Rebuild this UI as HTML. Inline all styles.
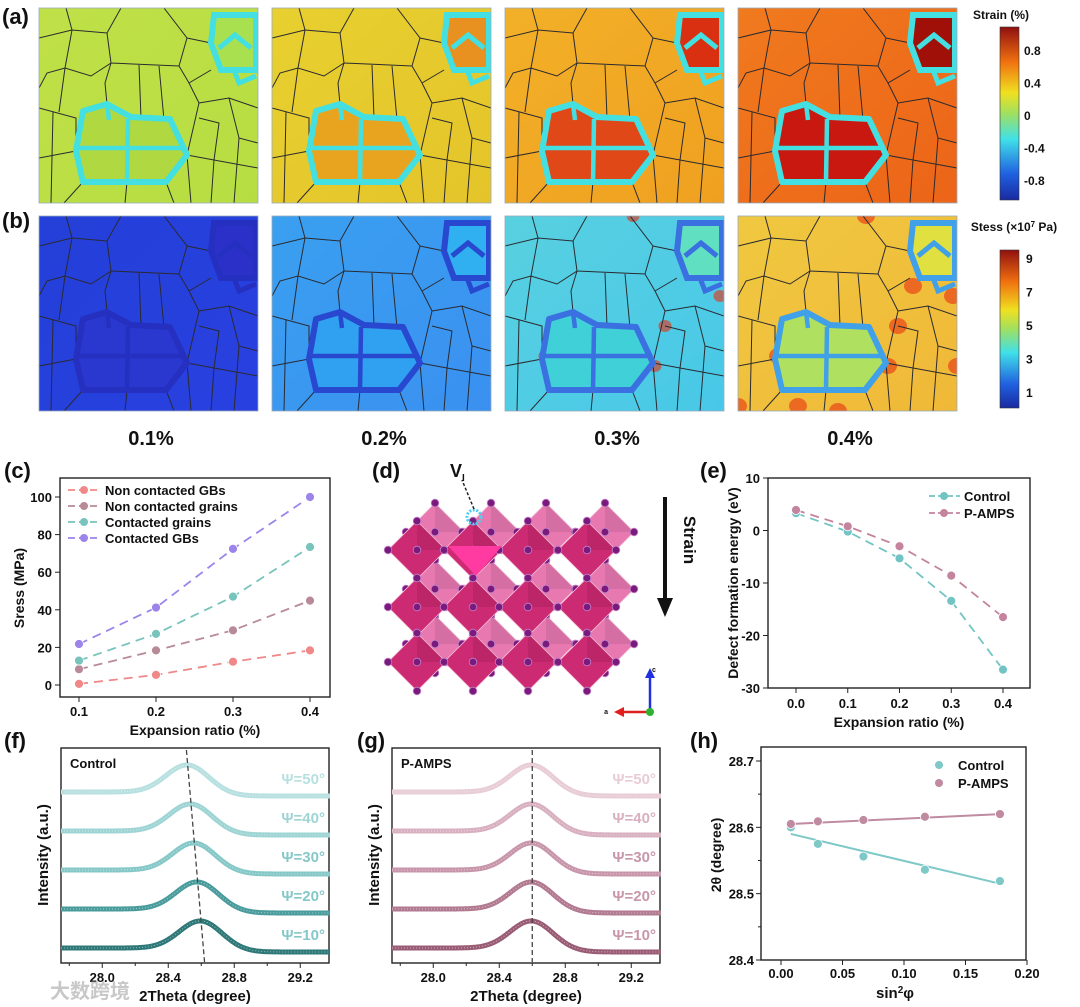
<!DOCTYPE html>
<html><head><meta charset="utf-8"><style>
html,body{margin:0;padding:0;background:#fff;width:1080px;height:1007px;overflow:hidden}
svg{display:block;font-family:"Liberation Sans","Noto Sans CJK SC",sans-serif;font-weight:bold}
</style></head><body>
<svg id="fig" width="1080" height="1007" viewBox="0 0 1080 1007" xmlns="http://www.w3.org/2000/svg">
<defs>
<linearGradient id="cbA" x1="0" y1="1" x2="0" y2="0"><stop offset="0" stop-color="#1a2aa0"/><stop offset="0.15" stop-color="#2060e0"/><stop offset="0.35" stop-color="#40e0e8"/><stop offset="0.5" stop-color="#a0e060"/><stop offset="0.62" stop-color="#f0e020"/><stop offset="0.8" stop-color="#f07010"/><stop offset="1" stop-color="#901010"/></linearGradient>
<clipPath id="mapClip"><rect x="0" y="0" width="219" height="195"/></clipPath>
<symbol id="grains" viewBox="0 0 219 195">
<g fill="none" stroke="#2a2a30" stroke-width="1">
<path d="M27,0 L33,22 L0,30 M33,22 L68,25 L82,0 M68,25 L72,55 L52,68 L26,60 L8,65 L0,80 M33,22 L26,60 M72,55 L140,58 L148,30 L125,0 M148,30 L172,35 M72,55 L66,75 L68,96 M140,58 L150,75 L172,62 M100,57 L102,110 M120,58 L125,112 M150,75 L160,95 L148,147 M160,95 L190,90 L219,100 M190,90 L200,130 L219,135 M148,147 L175,152 L219,160 M175,152 L172,195 M200,130 L195,195 M160,110 L180,115 L175,152 M37,143 L0,150 M44,174 L25,195 M0,100 L37,110 L37,143 M14,104 L12,195 M127,174 L135,195 M88,174 L86,195 M148,147 L152,195 M26,60 L20,104"/>
</g>
</symbol>
</defs>
<g id="root"></g>
</svg>
<script>
const NS="http://www.w3.org/2000/svg";
const root=document.getElementById('root');
function mk(tag,attrs,parent){const e=document.createElementNS(NS,tag);for(const k in attrs)e.setAttribute(k,attrs[k]);(parent||root).appendChild(e);return e;}
function tx(str,x,y,size,parent,anchor,fill){const e=mk('text',{x:x,y:y,'font-size':size,'text-anchor':anchor||'middle',fill:fill||'#111'},parent);e.textContent=str;return e;}

// ---------- panels a,b (FEM maps) ----------
const mapX=[39,272,505,738];
const aBase=['#b6de42','#e4c42a','#f0a020','#ec6418'];
const aTop=['#c0e048','#e8d030','#f2b028','#f07a1e'];
const aClu=['#b0d840','#e8a41e','#e04818','#c81810'];
const aTR=['#a8e050','#e89020','#d83010','#a01008'];
const bBase=['#2840e0','#3a90f0','#48c8e8','#f0b838'];
const bTop=['#2440d8','#3aa0f0','#58d0e0','#f0c840'];
const bClu=['#2a38d0','#30a0f0','#40d0d8','#b0e060'];
const bTR=['#2a30c8','#30b0f0','#60e0c0','#e0e040'];
const aGB='#44dfe0';
const bGB=['#2530c0','#2848d0','#3a70e0','#40a0e8'];
const hot=[0,0,1,2];
const clusterPath="M44,103 L68,96 L92,109 L131,111 L148,147 L127,174 L44,174 L37,143 Z";
const trPath="M175,7 L217,7 L217,62 L182,62 L172,35 Z";
function drawMap(i,y,base,top,clu,tr,gb,name){
  const outer=mk('g',{transform:`translate(${mapX[i]},${y})`});
  
  
  const g=mk('g',{'clip-path':'url(#mapClip)'},outer);
  const gid=name+'-grad';
  const lg=mk('linearGradient',{id:gid,x1:0,y1:0,x2:1,y2:1},g);
  mk('stop',{offset:0,'stop-color':top[i]},lg);mk('stop',{offset:1,'stop-color':base[i]},lg);
  mk('rect',{x:0,y:0,width:219,height:195,fill:`url(#${gid})`},g);
  if(name.startsWith('stress')&&hot[i]>0){
    const spots=[[128,0],[215,80],[40,140],[150,150],[160,110],[0,190],[219,150],[60,190],[100,195],[175,70]];
    spots.slice(0,hot[i]*5).forEach(s=>mk('ellipse',{cx:s[0],cy:s[1],rx:4+hot[i]*2.5,ry:4+hot[i]*2,fill:'#e83010',opacity:0.6},g));
  }
  mk('path',{d:clusterPath,fill:clu[i]},g);
  mk('path',{d:trPath,fill:tr[i]},g);
  mk('use',{href:'#grains',x:0,y:0,width:219,height:195},g);
  const gbc=typeof gb==='string'?gb:gb[i];
  mk('path',{d:clusterPath,fill:'none',stroke:gbc,'stroke-width':6,'stroke-linejoin':'round'},g);
  mk('path',{d:'M40,140 L145,140 M89,111 L88,174 M68,96 L70,112',fill:'none',stroke:gbc,'stroke-width':4.5},g);
  mk('path',{d:trPath,fill:'none',stroke:gbc,'stroke-width':6},g);
  mk('path',{d:'M180,40 L196,27 L212,40 M195,62 L200,75 L217,68',fill:'none',stroke:gbc,'stroke-width':5},g);
  mk('rect',{x:0,y:0,width:219,height:195,fill:'none',stroke:'#9ab','stroke-width':0.8},outer);
}
for(let i=0;i<4;i++){drawMap(i,8,aBase,aTop,aClu,aTR,aGB,'strain-map-'+(i+1));drawMap(i,216,bBase,bTop,bClu,bTR,bGB,'stress-map-'+(i+1));}
const mapLabels=['0.1%','0.2%','0.3%','0.4%'];
mapLabels.forEach((l,i)=>{const t=tx(l,mapX[i]+112,445,20);});
// colorbars
const cba=mk('rect',{x:1000,y:27,width:19,height:173,fill:'url(#cbA)',stroke:'#333','stroke-width':0.6});

const cbb=mk('rect',{x:1000,y:250,width:19,height:158,fill:'url(#cbA)',stroke:'#333','stroke-width':0.6});

const strainTicks=['0.8','0.4','0','-0.4','-0.8'];
strainTicks.forEach((t,i)=>tx(t,1024,55+i*32.5,12,null,'start'));
const stressTicks=['9','7','5','3','1'];
stressTicks.forEach((t,i)=>tx(t,1026,263+i*33.5,12,null,'start'));
let t1=tx('Strain (%)',1001,19,12,null,'middle');
let t2=mk('text',{x:1014,y:231,'font-size':12,'text-anchor':'middle',fill:'#111'});t2.innerHTML='Stess (×10<tspan dy="-4" font-size="8">7</tspan><tspan dy="4"> Pa)</tspan>';


// panel letters
const letters=[['(a)',2,24],['(b)',2,228],['(c)',4,478],['(d)',372,478],['(e)',700,478],['(f)',4,748],['(g)',357,748],['(h)',690,748]];
letters.forEach(l=>{const t=tx(l[0],l[1],l[2],22,null,'start');});

// ---------- generic axes helper ----------
function box(x0,y0,x1,y1,name){const r=mk('rect',{x:x0,y:y0,width:x1-x0,height:y1-y0,fill:'none',stroke:'#222','stroke-width':1.4});}

// ---------- (c) ----------
const cX=[0.1,0.2,0.3,0.4];
const cNonGB=[0.6,5.4,12.4,18.4];
const cNonGrain=[8.4,18.4,29.1,44.9];
const cConGrain=[13.0,27.2,47.0,73.4];
const cConGB=[21.8,41.2,72.4,100];
const cNames=['Non contacted GBs','Non contacted grains','Contacted grains','Contacted GBs'];
const cColors=['#f08888','#b88a98','#78c4bc','#9c84ea'];
const cYT=[0,20,40,60,80,100];
const cXT=[0.1,0.2,0.3,0.4];
const cxs=v=>79+(v-0.1)*770, cys=v=>685-1.88*v;
box(60,478,330,697,'chart-c-axes');
cYT.forEach(v=>{mk('line',{x1:55,x2:60,y1:cys(v),y2:cys(v),stroke:'#222'});tx(v,52,cys(v)+5,13,null,'end');});
cXT.forEach(v=>{mk('line',{x1:cxs(v),x2:cxs(v),y1:697,y2:702,stroke:'#222'});tx(v.toFixed(1),cxs(v),716,13);});
let ct=tx('Expansion ratio (%)',195,735,14);
let cy=tx('Sress (MPa)',0,0,14);cy.setAttribute('transform','translate(24,588) rotate(-90)');
[cNonGB,cNonGrain,cConGrain,cConGB].forEach((s,k)=>{
  const l=mk('polyline',{points:s.map((v,i)=>cxs(cX[i])+','+cys(v)).join(' '),fill:'none',stroke:cColors[k],'stroke-width':1.8,'stroke-dasharray':'9 6'});
  
  s.forEach((v,i)=>{const c=mk('circle',{cx:cxs(cX[i]),cy:cys(v),r:4.5,fill:cColors[k],stroke:'#fff','stroke-width':0.8});});
  const ly=490+k*16;
  mk('line',{x1:68,x2:100,y1:ly,y2:ly,stroke:cColors[k],'stroke-width':1.8,'stroke-dasharray':'7 4'});
  mk('circle',{cx:84,cy:ly,r:4,fill:cColors[k]});
  const lt=tx(cNames[k],105,ly+5,13,null,'start');
});

// ---------- (d) crystal ----------
const dg=mk('g',{});
const colsD=[417,473,528,587],rowsD=[550,607,662];
[[18,-18,'#e878b0'],[0,0,'#cc2a72']].forEach(layer=>{
  rowsD.forEach(cyD=>colsD.forEach(cxD=>{
    const x=cxD+layer[0],y=cyD+layer[1],h=29;
    mk('polygon',{points:`${x},${y-h} ${x+h},${y} ${x},${y+h} ${x-h},${y}`,fill:layer[2],stroke:'#f6c0d8','stroke-width':0.8},dg);
    mk('polygon',{points:`${x},${y-h} ${x+h},${y} ${x},${y}`,fill:'#000',opacity:0.08},dg);
    [[x,y-h],[x+h,y],[x,y+h],[x-h,y],[x,y]].forEach(p=>mk('circle',{cx:p[0],cy:p[1],r:3.8,fill:'#7a1a7c',stroke:'#c080c8','stroke-width':0.8},dg));
  }));
});
mk('polygon',{points:'448,546 502,546 476,576',fill:'#ff3aa0'},dg);
mk('circle',{cx:474,cy:517,r:7,fill:'none',stroke:'#4fd0f0','stroke-width':3,'stroke-dasharray':'2 1.5'},dg);
mk('line',{x1:474,y1:509,x2:462,y2:480,stroke:'#222','stroke-width':1.5,'stroke-dasharray':'3 2'},dg);
let vt=mk('text',{x:450,y:477,'font-size':18,fill:'#111'});vt.innerHTML='V<tspan font-size="10" dy="4">I</tspan>';
const arr=mk('g',{});
mk('line',{x1:665,y1:497,x2:665,y2:600,stroke:'#111','stroke-width':4},arr);
mk('polygon',{points:'657,598 673,598 665,617',fill:'#111'},arr);
let st=tx('Strain',0,0,17);st.setAttribute('transform','translate(684,540) rotate(90)');
mk('line',{x1:650,y1:712,x2:650,y2:676,stroke:'#2030e0','stroke-width':2.5});mk('polygon',{points:'645,678 655,678 650,668',fill:'#2030e0'});
mk('line',{x1:650,y1:712,x2:622,y2:712,stroke:'#e02020','stroke-width':2.5});mk('polygon',{points:'624,707 624,717 614,712',fill:'#e02020'});
mk('circle',{cx:650,cy:712,r:4,fill:'#30b030'});
tx('c',652,672,7,null,'start');tx('a',608,714,7,null,'end');

// ---------- (e) ----------
const eX=[0.0,0.1,0.2,0.3,0.4];
const eControl=[3.3,-0.2,-5.3,-13.4,-26.5];
const ePAMPS=[3.9,0.8,-3.0,-8.6,-16.5];
const eYT=[10,0,-10,-20,-30];
const eXT=[0.0,0.1,0.2,0.3,0.4];
const eColors=['#72c4c4','#c4849e'];
const exs=v=>796+v*517.5, eys=v=>478+(10-v)*5.25;
box(768,478,1030,688,'chart-e-axes');
eYT.forEach(v=>{mk('line',{x1:763,x2:768,y1:eys(v),y2:eys(v),stroke:'#222'});tx(v,760,eys(v)+5,13,null,'end');});
eXT.forEach(v=>{mk('line',{x1:exs(v),x2:exs(v),y1:688,y2:693,stroke:'#222'});tx(v.toFixed(1),exs(v),708,13);});
let et=tx('Expansion ratio (%)',899,727,14);
let ey=tx('Defect formation energy (eV)',0,0,14);ey.setAttribute('transform','translate(738,583) rotate(-90)');
const eNames=['Control','P-AMPS'];
[eControl,ePAMPS].forEach((s,k)=>{
  const l=mk('polyline',{points:s.map((v,i)=>exs(eX[i])+','+eys(v)).join(' '),fill:'none',stroke:eColors[k],'stroke-width':1.8,'stroke-dasharray':'9 6'});
  
  s.forEach((v,i)=>{const c=mk('circle',{cx:exs(eX[i]),cy:eys(v),r:4.5,fill:eColors[k],stroke:'#fff','stroke-width':0.8});});
  const ly=496+k*17;
  mk('line',{x1:929,x2:960,y1:ly,y2:ly,stroke:eColors[k],'stroke-width':1.8,'stroke-dasharray':'6 3'});
  mk('circle',{cx:944,cy:ly,r:4,fill:eColors[k]});
  const lt=tx(eNames[k],964,ly+5,13,null,'start');
});

// ---------- (f),(g) XRD ----------
const psi=['Ψ=10°','Ψ=20°','Ψ=30°','Ψ=40°','Ψ=50°'];
const fPeaks=[28.60,28.58,28.56,28.54,28.52];
const gPeaks=[28.60,28.60,28.60,28.60,28.60];
const xrdXT=[28.0,28.4,28.8,29.2];
const fColors=['#2e7878','#4a9c9c','#86c8c8','#9ed4d4','#b8e0e0'];
const gColors=['#9a5c74','#b27a90','#c896aa','#d8b0c0','#e8ccd6'];
function xrd(x0,peaks,colors,title,name,dashTop,dashBot){
  const xs=v=>x0+(v-27.75)*165;
  box(x0,748,x0+268,963,name+'-axes');
  xrdXT.forEach(v=>{mk('line',{x1:xs(v),x2:xs(v),y1:963,y2:968,stroke:'#222'});tx(v.toFixed(1),xs(v),982,13);});
  [27.8,28.2,28.6,29.0].forEach(v=>mk('line',{x1:xs(v),x2:xs(v),y1:963,y2:966,stroke:'#222'}));
  const xt=tx('2Theta (degree)',x0+134,1001,15);
  const yt=tx('Intensity (a.u.)',0,0,15);yt.setAttribute('transform',`translate(${x0-13},855) rotate(-90)`);
  const ti=tx(title,x0+9,768,13,null,'start');
  peaks.forEach((c,k)=>{
    const base=948-k*39;let pts=[];
    for(let x=27.75;x<=29.39;x+=0.01){const g=Math.exp(-Math.pow((x-c)/0.13,2)/2);const step=4/(1+Math.exp(-(x-c)/0.08));pts.push(xs(x).toFixed(1)+','+(base-29*g+step).toFixed(1));}
    const p=mk('polyline',{points:pts.join(' '),fill:'none',stroke:colors[k],'stroke-width':5,'stroke-linejoin':'round'});
    
    mk('polyline',{points:pts.join(' '),fill:'none',stroke:'#fff','stroke-width':1,opacity:0.5,'stroke-dasharray':'1 2'});
    const l=tx(psi[k],x0+264,base-8,15,null,'end',k>=2?colors[k]:colors[2]);
    
  });
  const d=mk('line',{x1:xs(dashTop),y1:750,x2:xs(dashBot),y2:962,stroke:'#444','stroke-width':1.3,'stroke-dasharray':'5 3'});
  
}
xrd(61,fPeaks,fColors,'Control','chart-f',28.51,28.62);
xrd(392,gPeaks,gColors,'P-AMPS','chart-g',28.60,28.60);

// ---------- (h) ----------
const hX=[0.008,0.030,0.067,0.117,0.178];
const hControl=[28.600,28.575,28.556,28.536,28.519];
const hPAMPS=[28.605,28.609,28.611,28.616,28.620];
const hFitC=[28.590,28.515];
const hFitP=[28.605,28.620];
const hYT=[28.4,28.5,28.6,28.7];
const hXT=[0.00,0.05,0.10,0.15,0.20];
const hColors=['#7ec8c8','#c08aa0'];
const hxs=v=>781+v*1230, hys=v=>761+(28.7-v)*663.3;
box(761,747,1026,960,'chart-h-axes');
hYT.forEach(v=>{mk('line',{x1:756,x2:761,y1:hys(v),y2:hys(v),stroke:'#222'});tx(v.toFixed(1),754,hys(v)+5,13,null,'end');});
[28.45,28.55,28.65].forEach(v=>mk('line',{x1:758,x2:761,y1:hys(v),y2:hys(v),stroke:'#222'}));
hXT.forEach(v=>{mk('line',{x1:hxs(v),x2:hxs(v),y1:960,y2:965,stroke:'#222'});tx(v.toFixed(2),hxs(v),978,13);});
let hx=mk('text',{x:895,y:998,'font-size':15,'text-anchor':'middle',fill:'#111'});hx.innerHTML='sin<tspan dy="-5" font-size="10">2</tspan><tspan dy="5">φ</tspan>';
let hy=tx('2θ (degree)',0,0,14);hy.setAttribute('transform','translate(721,855) rotate(-90)');
const hNames=['Control','P-AMPS'];
[[hControl,hFitC],[hPAMPS,hFitP]].forEach((s,k)=>{
  const f=mk('line',{x1:hxs(hX[0]),y1:hys(s[1][0]),x2:hxs(hX[4]),y2:hys(s[1][1]),stroke:hColors[k],'stroke-width':2});
  
  s[0].forEach((v,i)=>{const c=mk('circle',{cx:hxs(hX[i]),cy:hys(v),r:4.5,fill:hColors[k],stroke:'#fff','stroke-width':0.8});});
  const ly=765+k*18;
  mk('circle',{cx:939,cy:ly,r:4,fill:hColors[k]});
  const lt=tx(hNames[k],958,ly+5,13,null,'start');
});

// watermark
let wm=tx('大数跨境',50,998,20,null,'start','#bbb');wm.setAttribute('opacity','0.8');
</script>
</body></html>
